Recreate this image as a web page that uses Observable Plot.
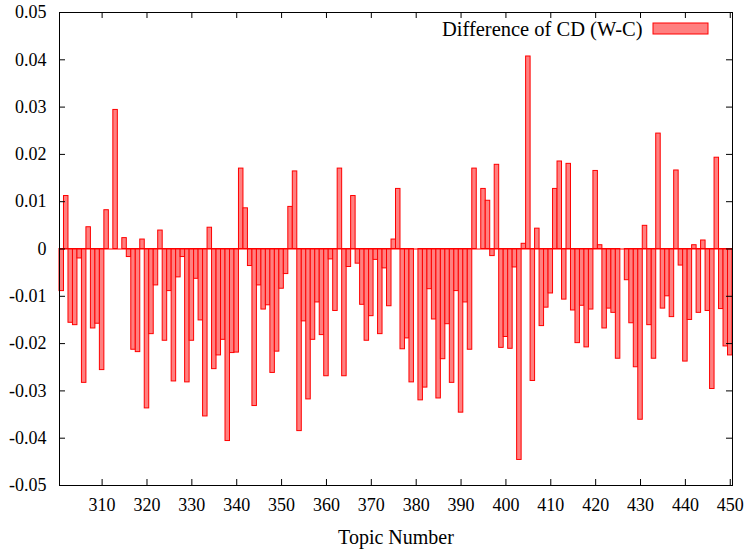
<!DOCTYPE html>
<html><head><meta charset="utf-8">
<script src="https://cdn.jsdelivr.net/npm/d3@7"></script>
<script src="https://cdn.jsdelivr.net/npm/@observablehq/plot@0.6"></script>
<style>
body{margin:0;background:#fff}
#chart{width:750px;height:550px}
#chart svg, #chart svg text{font-family:"Liberation Serif","Times New Roman",serif !important}
</style>
</head><body><div id="chart"></div>
<script>
const firstTopic = 301;
const values = [
 -0.0089, 0.0112,-0.0156,-0.0161,-0.0020,-0.0283, 0.0046,-0.0168,-0.0158,-0.0256,
  0.0082, 0.0000, 0.0294, 0.0000, 0.0023,-0.0017,-0.0213,-0.0218, 0.0020,-0.0337,
 -0.0180,-0.0077, 0.0039,-0.0194,-0.0089,-0.0280,-0.0060,-0.0017,-0.0282,-0.0194,
 -0.0063,-0.0151,-0.0354, 0.0045,-0.0254,-0.0225,-0.0192,-0.0406,-0.0220,-0.0219,
  0.0170, 0.0086,-0.0036,-0.0332,-0.0077,-0.0128,-0.0119,-0.0262,-0.0217,-0.0084,
 -0.0053, 0.0089, 0.0164,-0.0385,-0.0153,-0.0318,-0.0192,-0.0113,-0.0182,-0.0269,
 -0.0022,-0.0131, 0.0170,-0.0269,-0.0038, 0.0112,-0.0031,-0.0118,-0.0194,-0.0142,
 -0.0023,-0.0180,-0.0041,-0.0121, 0.0020, 0.0127,-0.0212,-0.0189,-0.0282, 0.0000,
 -0.0320,-0.0293,-0.0085,-0.0149,-0.0316,-0.0233,-0.0159,-0.0283,-0.0089,-0.0346,
 -0.0113,-0.0213, 0.0170, 0.0000, 0.0127, 0.0102,-0.0015, 0.0178,-0.0209,-0.0186,
 -0.0211,-0.0039,-0.0446, 0.0011, 0.0407,-0.0279, 0.0043,-0.0163,-0.0124,-0.0094,
  0.0127, 0.0185,-0.0107, 0.0180,-0.0130,-0.0199,-0.0120,-0.0208,-0.0128, 0.0165,
  0.0008,-0.0168,-0.0126,-0.0135,-0.0232, 0.0000,-0.0066,-0.0157,-0.0250,-0.0361,
  0.0049,-0.0161,-0.0232, 0.0244,-0.0126,-0.0100,-0.0144, 0.0166,-0.0035,-0.0238,
 -0.0150, 0.0008,-0.0135, 0.0018,-0.0131,-0.0296, 0.0193,-0.0127,-0.0206,-0.0225
];
const topics = values.map((_, i) => firstTopic + i);
const xTicks = [310,320,330,340,350,360,370,380,390,400,410,420,430,440,450];
const yTicks = [-0.05,-0.04,-0.03,-0.02,-0.01,0,0.01,0.02,0.03,0.04,0.05];
const seriesName = "Difference of CD (W-C)";
const xLabel = "Topic Number";

const data = topics.map((t, i) => ({topic: t, value: values[i]}));
const font = "Liberation Serif";
const W = 750, H = 550, mL = 59, mR = 18, mT = 12, mB = 65;
const xDom = [300.5, 450.5], yDom = [-0.05, 0.05];
const tickPx = 6;
const tx = tickPx * (xDom[1] - xDom[0]) / (W - mL - mR);
const ty = tickPx * (yDom[1] - yDom[0]) / (H - mT - mB);
const fmt = d => d === 0 ? "0" : d.toFixed(2);

const chart = Plot.plot({
  width: W, height: H,
  marginLeft: mL, marginRight: mR, marginTop: mT, marginBottom: mB,
  style: {fontFamily: font, fontSize: "18px", color: "black", background: "white"},
  x: {domain: xDom},
  y: {domain: yDom},
  marks: [
    Plot.rect(data, {x1: d => d.topic - 0.5, x2: d => d.topic + 0.5, y1: 0, y2: "value",
      fill: "rgb(255,128,128)", stroke: "red", strokeWidth: 1}),
    Plot.ruleY([0], {stroke: "red"}),
    Plot.ruleX(xTicks, {x: d => d, y1: yDom[0], y2: yDom[0] + ty, stroke: "black"}),
    Plot.ruleX(xTicks, {x: d => d, y1: yDom[1], y2: yDom[1] - ty, stroke: "black"}),
    Plot.ruleY(yTicks, {y: d => d, x1: xDom[0], x2: xDom[0] + tx, stroke: "black"}),
    Plot.ruleY(yTicks, {y: d => d, x1: xDom[1], x2: xDom[1] - tx, stroke: "black"}),
    Plot.frame({stroke: "black", strokeWidth: 1}),
    Plot.axisX({ticks: xTicks, tickSize: 0, tickPadding: 13, tickFormat: d => String(d), label: null, fontSize: 18}),
    Plot.axisY({ticks: yTicks, tickSize: 0, tickPadding: 13, tickFormat: fmt, label: null, fontSize: 18}),
    Plot.text([xLabel], {frameAnchor: "bottom", lineAnchor: "middle", dy: 52, fontSize: 20}),
    Plot.text([seriesName], {frameAnchor: "top-right", lineAnchor: "middle", dx: -90, dy: 17, textAnchor: "end", fontSize: 20.5})
  ]
});
document.getElementById("chart").appendChild(chart);
// legend swatch
d3.select(chart).append("rect")
  .attr("x", W - mR - 79).attr("y", mT + 11).attr("width", 55).attr("height", 11)
  .attr("fill", "rgb(255,128,128)").attr("stroke", "red");
</script>
</body></html>
